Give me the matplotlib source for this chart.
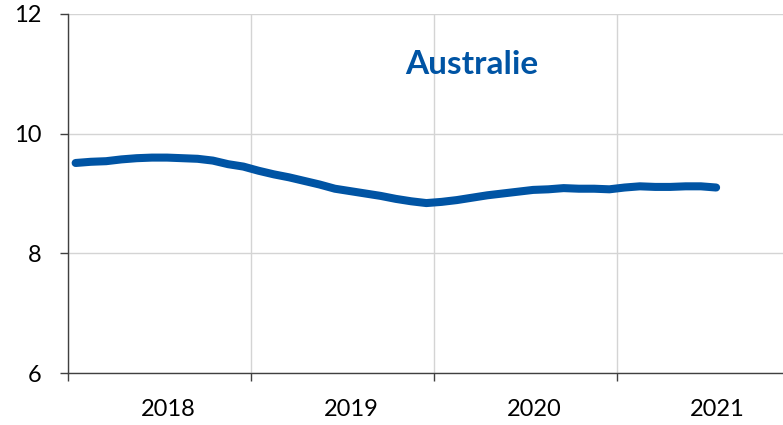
from matplotlib import rcParams, use
use('Agg')

import numpy as np
import matplotlib.pyplot as plt

# monthly values, Jan 2018 .. Jul 2021
months = np.arange(43) + 0.5
values = [9.51, 9.53, 9.54, 9.57, 9.59, 9.60, 9.60, 9.59, 9.58, 9.55,
          9.49, 9.45, 9.38, 9.32, 9.27, 9.21, 9.15, 9.08, 9.04, 9.00,
          8.96, 8.91, 8.87, 8.84, 8.86, 8.89, 8.93, 8.97, 9.00, 9.03,
          9.06, 9.07, 9.09, 9.08, 9.08, 9.07, 9.10, 9.12, 9.11, 9.11,
          9.12, 9.12, 9.10]
years = ['2018', '2019', '2020', '2021']
title = 'Australie'

rcParams['font.family'] = ['Lato', 'DejaVu Sans']
rcParams['font.size'] = 17

fig = plt.figure(figsize=(7.83, 4.25), dpi=100)
ax = fig.add_axes([68/783, 1-373/425, 1-68/783, (373-14)/425])

ax.plot(months, values, color='#0054a4', lw=5.8, solid_capstyle='round')

ax.set_xlim(0, (783-68)/15.25)
ax.set_ylim(6, 12)
ax.set_yticks([6, 8, 10, 12])
ax.set_xticks([0, 12, 24, 36])
ax.set_xticklabels([])
ax.set_xticks([12*k + 6.6 for k in range(4)], minor=True)
ax.set_xticklabels(years, minor=True)
ax.tick_params(axis='x', which='minor', length=0, pad=19)
ax.tick_params(axis='x', which='major', length=6, width=1, color='#404040')
ax.tick_params(axis='y', length=6, width=1, color='#404040', pad=13)

ax.grid(True, which='major', color='#d4d4d4', lw=1)
ax.set_axisbelow(True)
for s in ['top', 'right']:
    ax.spines[s].set_visible(False)
for s in ['left', 'bottom']:
    ax.spines[s].set_color('#404040')
    ax.spines[s].set_linewidth(1)

ax.text(0.565, 0.86, title, transform=ax.transAxes, ha='center', va='center',
        fontsize=24, fontweight='bold', color='#0054a4')

plt.savefig('out.png', dpi=100)
